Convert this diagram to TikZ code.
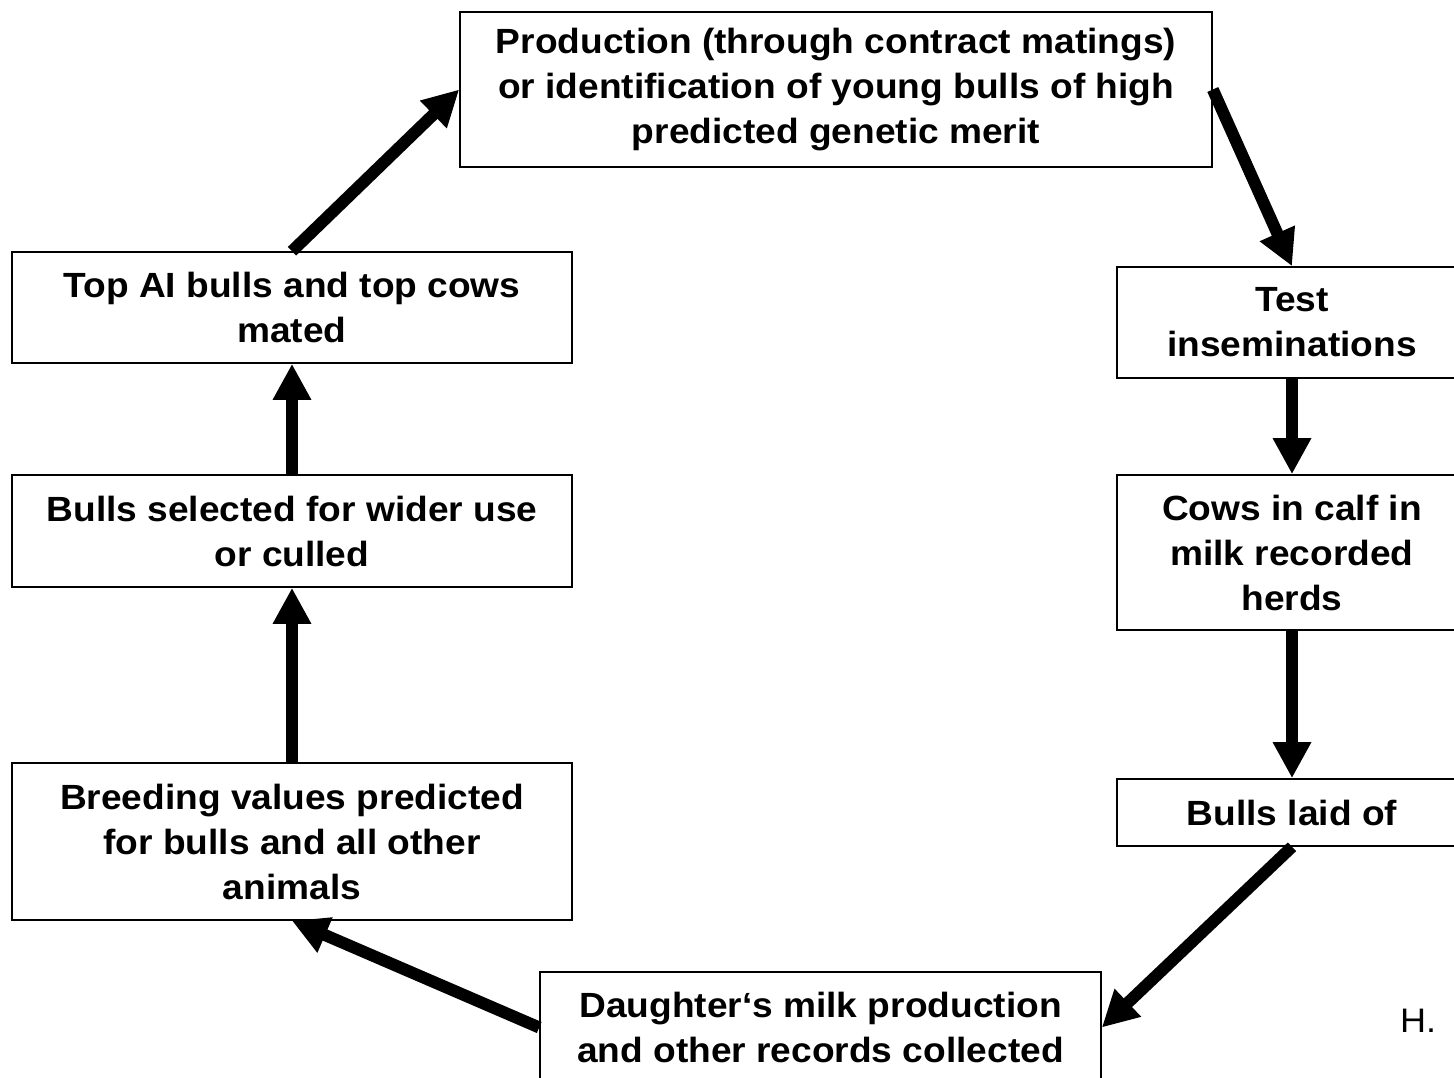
\documentclass[tikz,border=0pt]{standalone}
\usepackage{fontspec}
\setmainfont{Liberation Sans}[FakeStretch=1.06]
\usetikzlibrary{arrows.meta}
\begin{document}
\begin{tikzpicture}[x=1pt,y=-1pt,
  box/.style={draw,line width=1.6pt,inner sep=0pt,align=center,
    font=\bfseries\fontsize{35}{45}\selectfont},
  leftbox/.style={box,minimum width=560pt},
  rightbox/.style={box,minimum width=350pt},
  bigarrow/.style={line width=12pt,-{Triangle[length=36pt,width=36pt]}}]
\useasboundingbox (0,0) rectangle (1454,1078);
\clip (0,0) rectangle (1454,1078);
% top box
\node[box,minimum width=752pt,minimum height=155pt] (top) at (836,89.5)
  {Production (through contract matings)\\or identification of young bulls of high\\predicted genetic merit};
% right column
\node[rightbox,minimum height=111pt] (test) at (1292,322.5) {Test\\inseminations};
\node[rightbox,minimum height=155pt] (cows) at (1292,552.5) {Cows in calf in\\milk recorded\\herds};
\node[rightbox,minimum height=67pt] (laid) at (1292,812.5) {Bulls laid of};
% bottom
\node[box,minimum width=561pt,minimum height=111pt] (daughter) at (820.5,1027.5)
  {Daughter‘s milk production\\and other records collected};
% left column
\node[leftbox,minimum height=157pt] (breed) at (292,841.5) {Breeding values predicted\\for bulls and all other\\animals};
\node[leftbox,minimum height=112pt] (sel) at (292,531) {Bulls selected for wider use\\or culled};
\node[leftbox,minimum height=111pt] (topai) at (292,307.5) {Top AI bulls and top cows\\mated};
% arrows
\draw[bigarrow] (top.east) -- (test.north);
\draw[bigarrow] (test.south) -- (cows.north);
\draw[bigarrow] (cows.south) -- (laid.north);
\draw[bigarrow] (laid.south) -- (daughter.east);
\draw[bigarrow] (daughter.west) -- (breed.south);
\draw[bigarrow] (breed.north) -- (sel.south);
\draw[bigarrow] (sel.north) -- (topai.south);
\draw[bigarrow] (topai.north) -- (top.west);
% partial label
\node[anchor=base west,inner sep=0pt,font=\fontsize{34}{40}\selectfont] (h) at (1400,1032) {H.};
\end{tikzpicture}
\end{document}
